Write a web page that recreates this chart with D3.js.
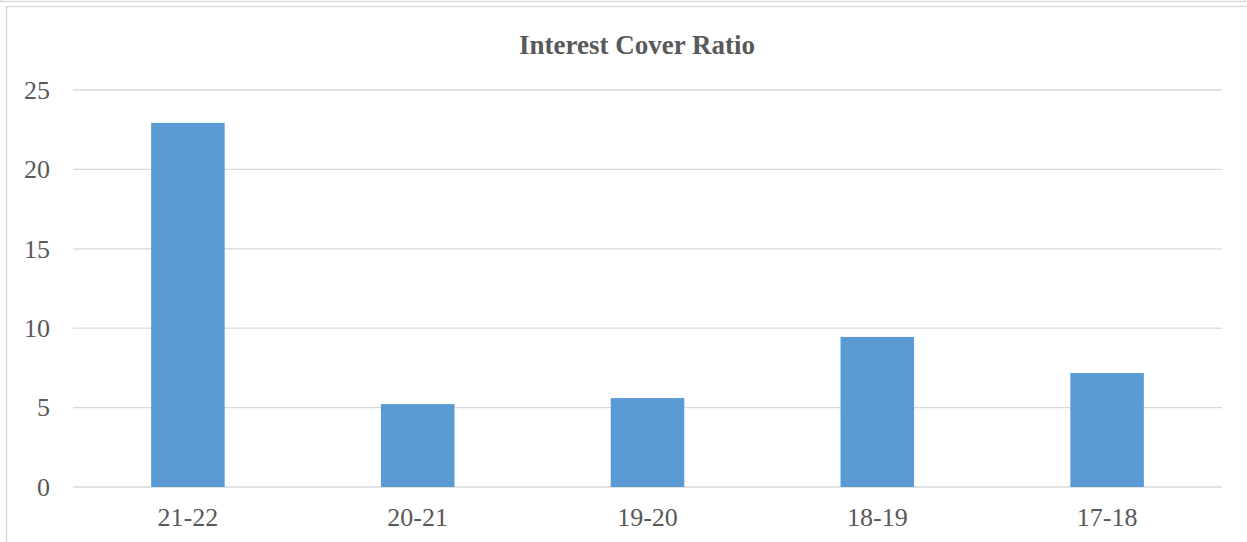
<!doctype html>
<html>
  <head>
    <meta charset="utf-8"/>
    <style>
      body { margin: 0; background: #fff; }
      svg { display: block; }
    </style>
  </head>
  <body>
    <script src="https://cdn.jsdelivr.net/npm/d3@7/dist/d3.min.js"></script>
    <script>

      const years = ['21-22', '20-21', '19-20', '18-19', '17-18'];
      const ratios = [22.93, 5.22, 5.6, 9.45, 7.18];
      const yTicks = [0, 5, 10, 15, 20, 25];

      const width = 1247, height = 542;
      const plotLeft = 73, plotRight = 1222, plotTop = 90, plotBottom = 487;
      const grey = '#d9d9d9', textColor = '#595959', barColor = '#5b9bd5';
      const font = '"Liberation Serif", "Times New Roman", serif';

      const svg = d3.select('body').append('svg')
            .attr('width', width)
            .attr('height', height);

      // frames round the chart
      svg.append('path')
        .attr('d', 'M0.5,0 V1.5 H1245.5 V0')
        .attr('fill', 'none')
        .attr('stroke', grey)
        .attr('stroke-width', 1.5);
      svg.append('path')
        .attr('d', `M6.5,${height} V6.5 H${width}`)
        .attr('fill', 'none')
        .attr('stroke', grey)
        .attr('stroke-width', 1.5);

      const x = d3.scaleBand()
            .domain(years)
            .range([plotLeft, plotRight])
            .paddingInner(0.68)
            .paddingOuter(0.34);

      const y = d3.scaleLinear()
            .domain([0, 25])
            .range([plotBottom, plotTop]);

      // gridlines
      svg.append('g')
        .selectAll('line')
        .data(yTicks)
        .join('line')
        .attr('x1', plotLeft)
        .attr('x2', plotRight)
        .attr('y1', d => y(d))
        .attr('y2', d => y(d))
        .attr('stroke', grey)
        .attr('stroke-width', 1.3);

      // bars
      svg.append('g')
        .selectAll('rect')
        .data(years)
        .join('rect')
        .attr('x', d => x(d))
        .attr('width', x.bandwidth())
        .attr('y', (d, i) => y(ratios[i]))
        .attr('height', (d, i) => y(0) - y(ratios[i]))
        .attr('fill', barColor);

      // y axis labels
      const yAxis = svg.append('g')
            .attr('transform', `translate(${plotLeft}, 0)`)
            .call(d3.axisLeft(y).tickValues(yTicks).tickSize(0).tickPadding(23));
      yAxis.select('.domain').remove();
      yAxis.selectAll('text')
        .attr('fill', textColor)
        .style('font-family', font)
        .style('font-size', '26px');

      // x axis labels
      const xAxis = svg.append('g')
            .attr('transform', `translate(0, ${plotBottom})`)
            .call(d3.axisBottom(x).tickSize(0).tickPadding(21));
      xAxis.select('.domain').remove();
      xAxis.selectAll('text')
        .attr('fill', textColor)
        .style('font-family', font)
        .style('font-size', '26px');

      svg.append('text')
        .attr('x', 637)
        .attr('y', 54)
        .attr('text-anchor', 'middle')
        .attr('fill', textColor)
        .style('font-family', font)
        .style('font-size', '27px')
        .style('font-weight', 'bold')
        .text('Interest Cover Ratio');

    </script>
  </body>
</html>
